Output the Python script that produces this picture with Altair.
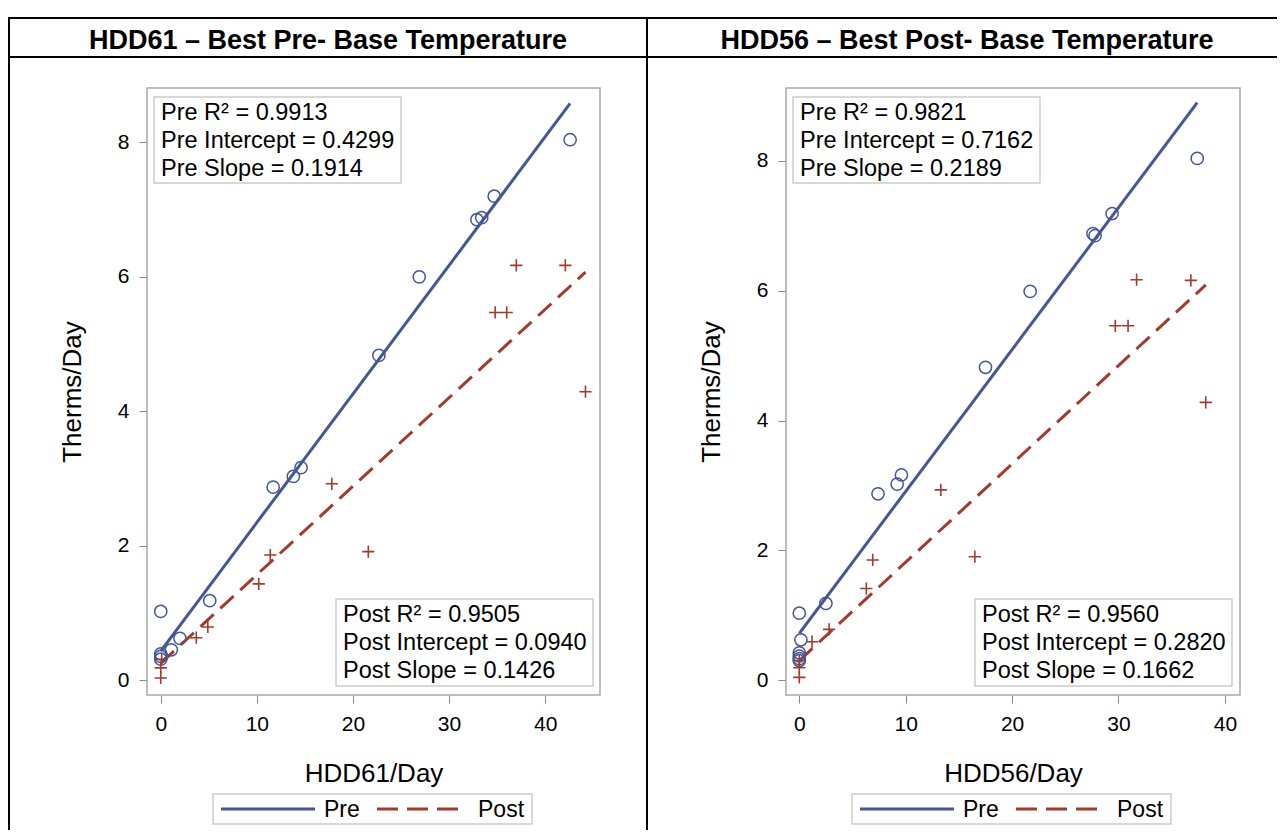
import altair as alt
import pandas as pd

FONT = "Liberation Sans"
BLUE = "#445694"
RED = "#A23A2E"
FRAME = "#a8a8a8"
BOXLINE = "#cccccc"

panel_titles = ["HDD61 – Best Pre- Base Temperature", "HDD56 – Best Post- Base Temperature"]
x_titles = ["HDD61/Day", "HDD56/Day"]
y_title = "Therms/Day"
x_ticks = [0, 10, 20, 30, 40]
y_ticks = [0, 2, 4, 6, 8]
series_names = ["Pre", "Post"]

# Left panel (HDD61) observations
hdd61_pre_x = [42.6, 34.7, 32.9, 33.4, 26.9, 22.7, 14.6, 13.8, 11.7, 5.1, 2.0, 1.1, 0.0, 0.0, 0.0, 0.0]
hdd61_pre_y = [8.04, 7.20, 6.85, 6.88, 6.00, 4.83, 3.16, 3.03, 2.87, 1.18, 0.62, 0.45, 1.02, 0.39, 0.35, 0.31]
hdd61_post_x = [44.2, 42.1, 37.0, 34.8, 36.0, 17.8, 21.6, 11.4, 10.2, 4.9, 3.7, 0.1, 0.0, 0.0]
hdd61_post_y = [4.29, 6.17, 6.17, 5.47, 5.47, 2.92, 1.91, 1.86, 1.43, 0.79, 0.63, 0.31, 0.18, 0.03]

# Right panel (HDD56) observations
hdd56_pre_x = [37.4, 29.4, 27.6, 27.8, 21.7, 17.5, 9.6, 9.2, 7.4, 2.5, 0.0, 0.15, 0.0, 0.0, 0.0, 0.0]
hdd56_pre_y = [8.04, 7.19, 6.88, 6.85, 5.99, 4.82, 3.16, 3.02, 2.87, 1.18, 1.03, 0.62, 0.42, 0.37, 0.33, 0.30]
hdd56_post_x = [38.2, 36.8, 31.7, 29.7, 30.9, 13.3, 16.5, 6.9, 6.3, 2.8, 1.2, 0.0, 0.0, 0.0]
hdd56_post_y = [4.28, 6.16, 6.17, 5.46, 5.46, 2.93, 1.90, 1.85, 1.41, 0.78, 0.59, 0.30, 0.19, 0.04]

# Fit statistics printed in the insets
pre_r2 = [0.9913, 0.9821]
pre_int = [0.4299, 0.7162]
pre_slope = [0.1914, 0.2189]
post_r2 = [0.9505, 0.9560]
post_int = [0.0940, 0.2820]
post_slope = [0.1426, 0.1662]

# Fitted lines as drawn (end points)
fit_pre_x = [[0.0, 42.6], [0.0, 37.4]]
fit_pre_y = [[0.43, 8.58], [0.72, 8.90]]
fit_post_x = [[0.0, 44.2], [0.0, 38.2]]
fit_post_y = [[0.25, 6.07], [0.30, 6.09]]

# Axis extents
x_domains = [[-1.43, 45.71], [-1.25, 41.42]]
y_domains = [[-0.223, 8.81], [-0.231, 9.125]]

# ---- layout (pixels, plot-area origin) ----
W, H = 1269, 607
panel_left = [139, 778]
panel_right = [592, 1232]
title_x = [320, 959]

one = alt.Data(values=[{}])


def deco_rect(x, x2, y, y2, color, sw=1):
    return alt.Chart(one).mark_rect(fillOpacity=0, stroke=color, strokeWidth=sw).encode(
        x=alt.value(x), x2=alt.value(x2), y=alt.value(y), y2=alt.value(y2))


def deco_rule(x, x2, y, y2, color, sw, dash=None):
    kw = dict(color=color, strokeWidth=sw)
    if dash:
        kw["strokeDash"] = dash
    return alt.Chart(one).mark_rule(**kw).encode(
        x=alt.value(x), x2=alt.value(x2), y=alt.value(y), y2=alt.value(y2))


def deco_text(txt, x, y, size, align="left", weight="normal", lh=28):
    return alt.Chart(pd.DataFrame({"t": [txt]})).mark_text(
        align=align, baseline="middle", font=FONT, fontSize=size, fontWeight=weight,
        color="#000000", lineBreak="\n", lineHeight=lh).encode(
        x=alt.value(x), y=alt.value(y), text="t:N")


def panel(i, pre_x, pre_y, post_x, post_y):
    xs = alt.Scale(domain=x_domains[i], range=[panel_left[i], panel_right[i]], nice=False, zero=False)
    ys = alt.Scale(domain=y_domains[i], nice=False, zero=False)
    common = dict(grid=False, domain=False, tickSize=8, tickColor="#888888", tickWidth=1,
                  labelFont=FONT, labelFontSize=21, labelColor="#000000",
                  titleFont=FONT, titleFontSize=26, titleFontWeight="normal", titleColor="#000000",
                  format="d")
    xax = alt.Axis(orient="bottom", values=x_ticks, title=x_titles[i], labelPadding=10,
                   titlePadding=26, **common)
    yax = alt.Axis(orient="left", offset=-panel_left[i], values=y_ticks, title=y_title,
                   labelPadding=10, titlePadding=32, **common)
    X = alt.X("x:Q", scale=xs, axis=xax)
    Y = alt.Y("y:Q", scale=ys, axis=yax)
    pre_df = pd.DataFrame({"x": pre_x, "y": pre_y})
    post_df = pd.DataFrame({"x": post_x, "y": post_y})
    fpre = pd.DataFrame({"x": fit_pre_x[i], "y": fit_pre_y[i]})
    fpost = pd.DataFrame({"x": fit_post_x[i], "y": fit_post_y[i]})
    l1 = alt.Chart(fpre).mark_line(color=BLUE, strokeWidth=3).encode(x=X, y=Y)
    l2 = alt.Chart(fpost).mark_line(color=RED, strokeWidth=3, strokeDash=[18, 9]).encode(x=X, y=Y)
    p1 = alt.Chart(pre_df).mark_point(shape="circle", filled=False, size=150, strokeWidth=1.5,
                                      color=BLUE, opacity=1).encode(x=X, y=Y)
    p2 = alt.Chart(post_df).mark_point(shape="M-1,0H1M0,-1V1", filled=False, size=150,
                                       strokeWidth=1.6, color=RED, opacity=1).encode(x=X, y=Y)
    return alt.layer(l1, l2, p1, p2)


def panel_deco(i):
    L = panel_left[i]
    layers = []
    # plot frame
    layers.append(deco_rect(L, panel_right[i], 0, H, FRAME, 1.5))
    # top-left inset
    layers.append(deco_rect(L + 7, L + 254, 9, 95, BOXLINE, 1.5))
    layers.append(deco_text(
        f"{series_names[0]} R² = {pre_r2[i]:.4f}\n{series_names[0]} Intercept = {pre_int[i]:.4f}\n{series_names[0]} Slope = {pre_slope[i]:.4f}",
        L + 14, 25, 23.5))
    # bottom-right inset
    layers.append(deco_rect(L + 189, L + 446, 511, 598, BOXLINE, 1.5))
    layers.append(deco_text(
        f"{series_names[1]} R² = {post_r2[i]:.4f}\n{series_names[1]} Intercept = {post_int[i]:.4f}\n{series_names[1]} Slope = {post_slope[i]:.4f}",
        L + 196, 527, 23.5))
    # legend
    layers.append(deco_rect(L + 66, L + 385, 706, 736, BOXLINE, 1.5))
    layers.append(deco_rule(L + 74, L + 168, 721, 721, BLUE, 3))
    layers.append(deco_text(series_names[0], L + 177, 722, 23))
    layers.append(deco_rule(L + 230, L + 313, 721, 721, RED, 3, [21, 9]))
    layers.append(deco_text(series_names[1], L + 331, 722, 23))
    # panel title
    layers.append(deco_text(panel_titles[i], title_x[i], -47, 27, align="center", weight="bold"))
    return layers


table = [
    deco_rule(0, W, -70, -70, "#000000", 2),
    deco_rule(0, W, -31, -31, "#000000", 2),
    deco_rule(1, 1, -70, 742, "#000000", 2),
    deco_rule(639, 639, -70, 742, "#000000", 2),
]

left = panel(0, hdd61_pre_x, hdd61_pre_y, hdd61_post_x, hdd61_post_y)
right = panel(1, hdd56_pre_x, hdd56_pre_y, hdd56_post_x, hdd56_post_y)

chart = alt.layer(
    *table, *panel_deco(0), *panel_deco(1), left, right
).resolve_scale(x="independent", y="independent").properties(
    width=W, height=H, autosize="none",
    padding={"left": 0, "top": 80, "right": 0, "bottom": 135},
).configure_view(stroke=None)

chart.save("out.html", embed_options={"renderer": "svg", "actions": False})
